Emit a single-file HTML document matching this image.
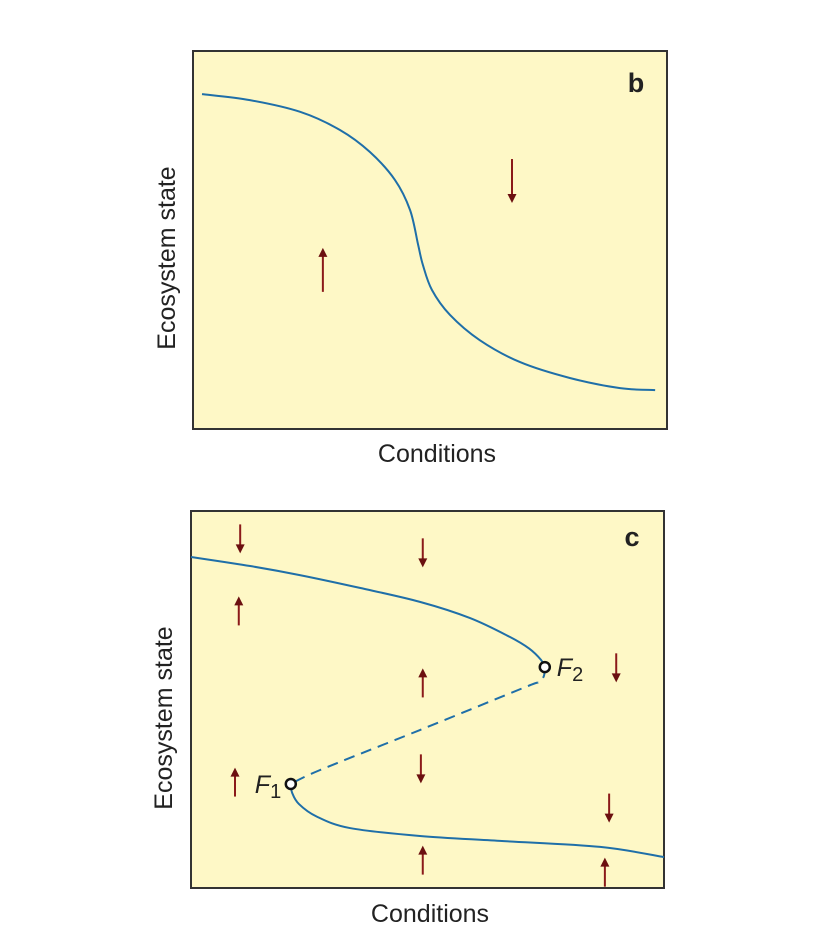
<!DOCTYPE html>
<html><head><meta charset="utf-8">
<style>
html,body{margin:0;padding:0;background:#fff;width:826px;height:948px;overflow:hidden}
svg{display:block}
text{font-family:"Liberation Sans",sans-serif;fill:#222}
</style></head>
<body>
<svg id="chart" width="826" height="948">
  <text x="440" y="-5" font-size="25" text-anchor="middle" fill="#999">Conditions</text>
  <g id="pb">
    <rect x="193" y="51" width="474" height="378" fill="#fef8c6" stroke="#333" stroke-width="2"/>
    <text x="636" y="92" font-size="27" font-weight="bold" text-anchor="middle" fill="#111">b</text>
    <text x="437" y="462" font-size="25" text-anchor="middle">Conditions</text>
    <text transform="translate(175,258) rotate(-90)" font-size="25" text-anchor="middle">Ecosystem state</text>
  </g>
  <g id="pc">
    <rect x="191" y="511" width="473" height="377" fill="#fef8c6" stroke="#333" stroke-width="2"/>
    <text x="632" y="546" font-size="27" font-weight="bold" text-anchor="middle" fill="#111">c</text>
    <text x="430" y="922" font-size="25" text-anchor="middle">Conditions</text>
    <text transform="translate(172,718) rotate(-90)" font-size="25" text-anchor="middle">Ecosystem state</text>
  </g>
</svg>
<script>
// Panel b curve (x = conditions 0-100, y = state 0-100)
const bCurveX = [1.9,12.0,22.6,31.0,37.3,42.6,45.8,47.5,48.5,50.4,54.2,60.5,69.0,79.5,90.1,97.5];
const bCurveY = [88.6,87.0,83.9,79.1,73.3,65.9,57.9,48.7,43.4,36.8,30.2,23.5,17.7,13.5,10.8,10.3];
const bArrowX = [67.3,27.4];
const bArrowY = [65.6,42.1];
const bArrowDir = [-1,1];
// Panel c curves
const cUpperX = [0,12.5,23.0,35.7,48.4,59.0,67.4,71.5,74.0,74.8];
const cUpperY = [87.8,85.4,83.0,79.6,75.9,71.6,66.6,63.5,60.5,58.6];
const cMidX = [74.8,74.6,73.5,70.5,48.4,27.3,21.1];
const cMidY = [58.6,56.2,54.6,53.2,41.9,31.3,27.6];
const cLowerX = [21.1,21.4,22.8,26.5,33.6,48.4,65.3,86.5,100];
const cLowerY = [27.6,25.2,22.3,19.0,15.9,13.8,12.5,10.9,8.2];
const cFoldX = [21.1,74.8];
const cFoldY = [27.6,58.6];
const cFoldLabels = ["1","2"];
const cArrowX = [10.4,49.0,10.1,49.0,89.9,9.3,48.6,88.4,49.0,87.5];
const cArrowY = [92.6,88.9,73.5,54.4,58.4,28.1,31.6,21.2,7.4,4.2];
const cArrowDir = [-1,-1,1,1,-1,1,-1,-1,1,1];

const NS = "http://www.w3.org/2000/svg";
function mk(tag, attrs, parent){const e=document.createElementNS(NS,tag);for(const k in attrs)e.setAttribute(k,attrs[k]);parent.appendChild(e);return e;}
function scales(l,t,w,h){return {x:v=>l+v*w/100,y:v=>t+h-v*h/100};}
const sb = scales(193,51,474,378), sc = scales(191,511,473,377);
function pathD(xs,ys,s){
  const p=xs.map((x,i)=>[s.x(x),s.y(ys[i])]);
  let d="M"+p[0][0]+","+p[0][1];
  for(let i=0;i<p.length-1;i++){
    const p0=p[Math.max(i-1,0)],p1=p[i],p2=p[i+1],p3=p[Math.min(i+2,p.length-1)];
    const c1=[p1[0]+(p2[0]-p0[0])/6,p1[1]+(p2[1]-p0[1])/6];
    const c2=[p2[0]-(p3[0]-p1[0])/6,p2[1]-(p3[1]-p1[1])/6];
    d+=" C"+c1+" "+c2+" "+p2;
  }
  return d;
}
function curve(xs,ys,s,g,name,dash){
  const e=mk("path",{d:pathD(xs,ys,s),fill:"none",stroke:"#1f6fa8","stroke-width":2},g);
  if(dash)e.setAttribute("stroke-dasharray","11 7");
  
  
}
function arrows(xs,ys,dirs,s,g,len,prefix){
  xs.forEach((x,i)=>{
    const cx=s.x(x),cy=s.y(ys[i]),dir=dirs[i];
    const a=mk("g",{},g);
    
    
    const tip=cy-dir*len/2, tail=cy+dir*len/2;
    mk("line",{x1:cx,y1:tail,x2:cx,y2:tip+dir*6,stroke:"#8b1a1a","stroke-width":2},a);
    mk("polygon",{points:`${cx},${tip} ${cx-4.5},${tip+dir*9} ${cx+4.5},${tip+dir*9}`,fill:"#6b1010"},a);
  });
}
const gb=document.getElementById("pb"), gc=document.getElementById("pc");
curve(bCurveX,bCurveY,sb,gb,"panel-b-equilibrium-curve");
arrows(bArrowX,bArrowY,bArrowDir,sb,gb,44,"panel-b");
curve(cUpperX,cUpperY,sc,gc,"upper-stable-branch");
curve(cMidX,cMidY,sc,gc,"unstable-branch",true);
curve(cLowerX,cLowerY,sc,gc,"lower-stable-branch");
arrows(cArrowX,cArrowY,cArrowDir,sc,gc,29,"panel-c");
cFoldX.forEach((x,i)=>{
  const c=mk("circle",{cx:sc.x(x),cy:sc.y(cFoldY[i]),r:5,fill:"#fff",stroke:"#111","stroke-width":2.5},gc);
  
  
  const t=mk("text",{x:i===0?sc.x(x)-36:sc.x(x)+12,y:sc.y(cFoldY[i])+9,"font-size":25},gc);
  
  
  const f=mk("tspan",{"font-style":"italic"},t);f.textContent="F";
  const s=mk("tspan",{"font-size":20,dy:5},t);s.textContent=cFoldLabels[i];
});
</script>
</body></html>
